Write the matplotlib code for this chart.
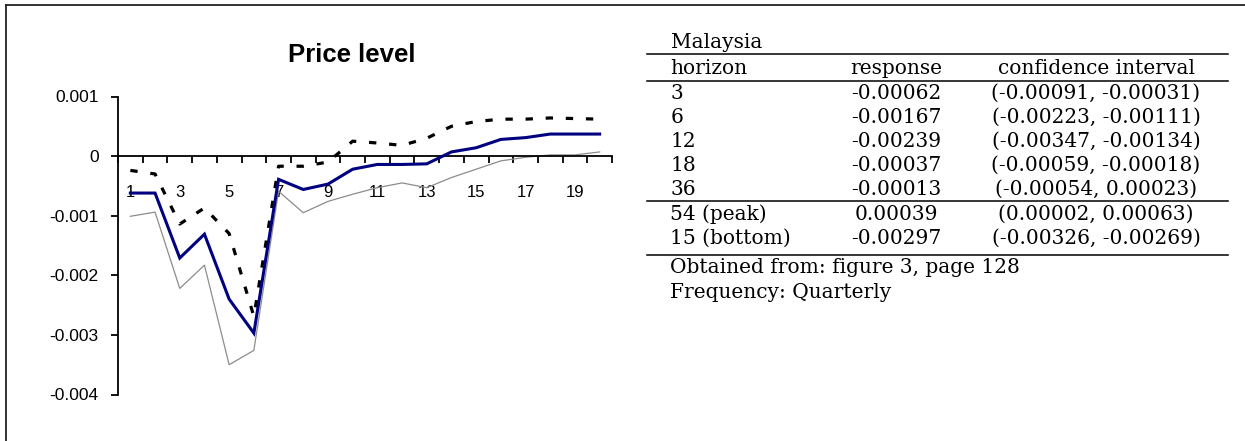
import matplotlib
matplotlib.use("Agg")
import matplotlib.pyplot as plt
from matplotlib.lines import Line2D
from matplotlib.ticker import FixedLocator, FixedFormatter

# ---------------- data ----------------
periods = list(range(1, 21))
response = [-0.00062, -0.00062, -0.00171, -0.00131, -0.00240, -0.00297, -0.00039,
            -0.00056, -0.00047, -0.00022, -0.00014, -0.00014, -0.00013, 0.00007,
            0.00014, 0.00028, 0.00031, 0.00037, 0.00037, 0.00037]
lower = [-0.00101, -0.00094, -0.00222, -0.00183, -0.00350, -0.00326, -0.00059,
         -0.00095, -0.00076, -0.00064, -0.00053, -0.00045, -0.00053, -0.00036,
         -0.00022, -0.00008, -0.00002, 0.00002, 0.00002, 0.00007]
upper = [-0.00024, -0.00030, -0.00114, -0.00087, -0.00130, -0.00269, -0.00017,
         -0.00017, -0.00010, 0.00025, 0.00022, 0.00018, 0.00030, 0.00050,
         0.00058, 0.00062, 0.00062, 0.00064, 0.00063, 0.00062]
yticks = [0.001, 0.0, -0.001, -0.002, -0.003, -0.004]
yticklabels = ["0.001", "0", "-0.001", "-0.002", "-0.003", "-0.004"]
xtick_positions = [1, 3, 5, 7, 9, 11, 13, 15, 17, 19]
xticklabels = ["1", "3", "5", "7", "9", "11", "13", "15", "17", "19"]
title = "Price level"

table_title = "Malaysia"
header = ["horizon", "response", "confidence interval"]
horizons = ["3", "6", "12", "18", "36"]
responses = ["-0.00062", "-0.00167", "-0.00239", "-0.00037", "-0.00013"]
intervals = ["(-0.00091, -0.00031)", "(-0.00223, -0.00111)", "(-0.00347, -0.00134)",
             "(-0.00059, -0.00018)", "(-0.00054, 0.00023)"]
extreme_h = ["54 (peak)", "15 (bottom)"]
extreme_r = ["0.00039", "-0.00297"]
extreme_ci = ["(0.00002, 0.00063)", "(-0.00326, -0.00269)"]
notes = ["Obtained from: figure 3, page 128", "Frequency: Quarterly"]

# ---------------- figure ----------------
W, H = 1245, 441
fig = plt.figure(figsize=(W / 100, H / 100), dpi=100)
fig.patch.set_facecolor("white")

def fx(x):
    return x / W

def fy(y):
    return 1 - y / H

# axes placement (pixel box: x 118..612, y 96.5..394.5)
ax_l, ax_r, ax_t, ax_b = 118, 612, 96.5, 394.5
ax = fig.add_axes([fx(ax_l), fy(ax_b), (ax_r - ax_l) / W, (ax_b - ax_t) / H])
ax.set_xlim(0.5, 20.5)
ax.set_ylim(-0.004, 0.001)

ax.plot(periods, lower, color="#8c8c8c", lw=0.9, zorder=2)
ax.plot(periods, upper, color="black", lw=2.3, linestyle=(0, (2.3, 4.0)),
        dash_capstyle="butt", zorder=3)
ax.plot(periods, response, color="#000080", lw=2.2, zorder=4,
        solid_joinstyle="miter")

for s in ["top", "right"]:
    ax.spines[s].set_visible(False)
ax.spines["bottom"].set_position(("data", 0))
ax.spines["left"].set_linewidth(1.3)
ax.spines["bottom"].set_linewidth(1.3)

ax.yaxis.set_major_locator(FixedLocator(yticks))
ax.yaxis.set_major_formatter(FixedFormatter(yticklabels))
ax.tick_params(axis="y", which="major", direction="out", length=5, width=1.3,
               pad=9, labelsize=12.5)

ax.xaxis.set_major_locator(FixedLocator(xtick_positions))
ax.xaxis.set_major_formatter(FixedFormatter(xticklabels))
ax.xaxis.set_minor_locator(FixedLocator([p + 0.5 for p in [0] + periods]))
ax.tick_params(axis="x", which="major", length=0, pad=20.5, labelsize=12)
ax.tick_params(axis="x", which="minor", direction="out", length=5, width=1.3)
for lab in ax.get_xticklabels() + ax.get_yticklabels():
    lab.set_fontfamily(["Liberation Sans", "DejaVu Sans"])

fig.text(fx(351.5), fy(55), title, ha="center", va="center", fontsize=18.5,
         fontweight="bold", family=["Liberation Sans", "DejaVu Sans"])

# ---------------- frame ----------------
fig.add_artist(Line2D([fx(6), fx(1245)], [fy(5), fy(5)], color="#222222", lw=1.3,
                      transform=fig.transFigure))
fig.add_artist(Line2D([fx(6), fx(6)], [fy(5), fy(441)], color="#222222", lw=1.3,
                      transform=fig.transFigure))

# ---------------- table ----------------
tfont = dict(family=["DejaVu Serif"], fontsize=14.5, color="black")
x_h, x_r, x_ci = 670.5, 896, 1096
rule_x0, rule_x1 = 647, 1228

def rule(y, lw=1.0):
    fig.add_artist(Line2D([fx(rule_x0), fx(rule_x1)], [fy(y), fy(y)], color="black",
                          lw=lw, transform=fig.transFigure))

fig.text(fx(x_h), fy(47.8), table_title, ha="left", va="baseline", **tfont)
rule(54.3, 1.1)
fig.text(fx(x_h), fy(74), header[0], ha="left", va="baseline", **tfont)
fig.text(fx(x_r), fy(74), header[1], ha="center", va="baseline", **tfont)
fig.text(fx(x_ci), fy(74), header[2], ha="center", va="baseline", **tfont)
rule(80.7, 1.1)
row_base = [99.2, 123.2, 147.2, 171.2, 194.5]
for yb, h, r, c in zip(row_base, horizons, responses, intervals):
    fig.text(fx(x_h), fy(yb), h, ha="left", va="baseline", **tfont)
    fig.text(fx(x_r), fy(yb), r, ha="center", va="baseline", **tfont)
    fig.text(fx(x_ci), fy(yb), c, ha="center", va="baseline", **tfont)
rule(200.7, 1.1)
for yb, h, r, c in zip([220.0, 244.0], extreme_h, extreme_r, extreme_ci):
    fig.text(fx(x_h), fy(yb), h, ha="left", va="baseline", **tfont)
    fig.text(fx(x_r), fy(yb), r, ha="center", va="baseline", **tfont)
    fig.text(fx(x_ci), fy(yb), c, ha="center", va="baseline", **tfont)
rule(255, 1.1)
fig.text(fx(x_h), fy(273.3), notes[0], ha="left", va="baseline", **tfont)
fig.text(fx(x_h), fy(298.3), notes[1], ha="left", va="baseline", **tfont)

fig.savefig("out.png", dpi=100, facecolor="white")
